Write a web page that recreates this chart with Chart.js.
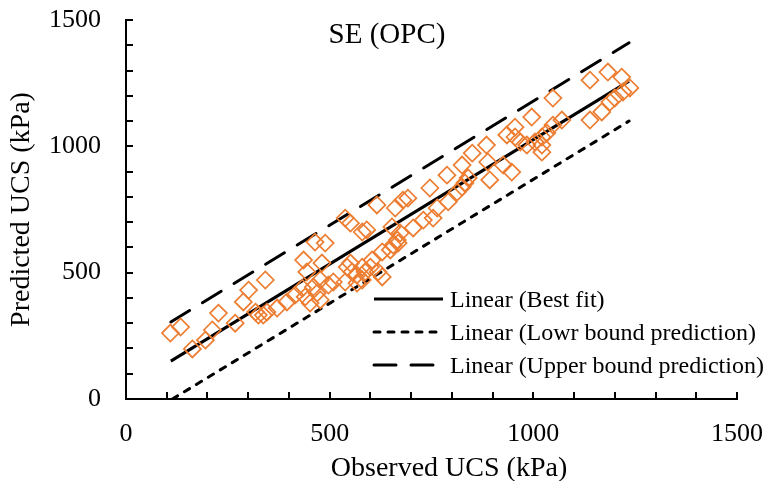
<!DOCTYPE html>
<html>
<head>
<meta charset="utf-8">
<script src="https://cdn.jsdelivr.net/npm/chart.js@4.4.0/dist/chart.umd.min.js"></script>
<style>
  html, body { margin: 0; padding: 0; background: #fff; }
  #wrap { width: 767px; height: 481px; }
</style>
</head>
<body>
<div id="wrap"><canvas id="ucsChart"></canvas></div>
<script>
// measured vs model UCS, kPa
const observed = [109, 134, 163, 195, 212, 227, 268, 288, 301, 318, 325, 337, 342, 346, 371, 395, 415, 433, 436, 440,
  444, 452, 460, 464, 469, 477, 477, 481, 489, 497,
  509, 538, 538, 543, 551, 551, 555, 567, 567, 580, 580, 580, 587, 591, 600, 604, 616, 619, 629, 629,
  649, 653, 656, 661, 666, 668, 673, 680, 692, 705, 730, 746, 754, 764, 788, 791, 813, 825, 825, 832,
  840, 850, 885, 888, 893, 926, 935, 947, 955, 955, 968, 984, 996, 1004, 1021, 1021, 1021, 1033, 1048, 1048,
  1070, 1139, 1139, 1168, 1183, 1188, 1200, 1217, 1220, 1237];
const predicted = [261, 285, 198, 233, 273, 340, 300, 384, 431, 344, 332, 332, 471, 344, 360, 384, 411, 439, 550, 404,
  503, 380, 443, 621, 419, 392, 471, 538, 617, 451,
  463, 716, 463, 522, 696, 538, 503, 491, 459, 522, 471, 661, 503, 669, 522, 550, 768, 503, 483, 582,
  590, 681, 609, 756, 629, 617, 657, 787, 795, 677, 708, 835, 716, 756, 886, 780, 819, 926, 839, 855,
  875, 973, 1005, 938, 867, 926, 1045, 898, 1037, 1076, 1017, 1005, 1116, 1017, 1037, 1005, 977, 1053, 1191, 1084,
  1104, 1262, 1104, 1136, 1294, 1175, 1191, 1274, 1215, 1231];

// trend lines (end points)
const fitX = [110, 1235];
const bestFit = [150, 1258];
const lowerX = [114, 1235];
const lowerBound = [0, 1100];
const upperX = [110, 1235];
const upperBound = [305, 1410];

const tickStep = 100;
const labelStep = 500;

const serif = "'Liberation Serif', 'Times New Roman', serif";

const pts = (xs, ys) => xs.map((x, i) => ({ x, y: ys[i] }));

// small inward tick marks on both axes
const inwardTicks = {
  id: 'inwardTicks',
  afterDatasetsDraw(chart) {
    const { ctx, chartArea: a, scales: { x, y } } = chart;
    ctx.save();
    ctx.strokeStyle = '#000';
    ctx.lineWidth = 2;
    ctx.beginPath();
    x.ticks.forEach(t => {
      const px = Math.round(x.getPixelForValue(t.value));
      ctx.moveTo(px, a.bottom);
      ctx.lineTo(px, a.bottom - 7);
    });
    y.ticks.forEach(t => {
      const py = Math.round(y.getPixelForValue(t.value));
      ctx.moveTo(a.left, py);
      ctx.lineTo(a.left + 7, py);
    });
    ctx.stroke();
    ctx.restore();
  }
};

// panel caption, x title and legend for the three trend lines
const panelText = {
  id: 'panelText',
  afterDraw(chart) {
    const { ctx, chartArea: a } = chart;
    ctx.save();
    ctx.fillStyle = '#000';
    ctx.textAlign = 'center';
    ctx.textBaseline = 'alphabetic';
    ctx.font = `29px ${serif}`;
    ctx.fillText('SE (OPC)', a.left + 261, a.top + 23);

    ctx.font = `28px ${serif}`;
    ctx.fillText('Observed UCS (kPa)', a.left + 323, a.bottom + 77);

    ctx.font = `24px ${serif}`;
    ctx.textAlign = 'left';
    const lines = chart.data.datasets.filter(d => d.showLine);
    lines.forEach((d, i) => {
      const yy = a.bottom - 100 + i * 33;
      ctx.beginPath();
      ctx.strokeStyle = d.borderColor;
      ctx.lineWidth = d.borderWidth;
      ctx.lineCap = d.borderCapStyle || 'butt';
      ctx.setLineDash(d.borderDash || []);
      ctx.moveTo(a.left + 248, yy);
      ctx.lineTo(a.left + 317, yy);
      ctx.stroke();
      ctx.setLineDash([]);
      ctx.fillText(d.label, a.left + 324, yy + 8);
    });
    ctx.restore();
  }
};

new Chart(document.getElementById('ucsChart').getContext('2d'), {
  type: 'scatter',
  data: {
    datasets: [
      {
        label: 'Data',
        data: pts(observed, predicted),
        pointStyle: 'rectRot',
        pointRadius: 8.5,
        pointBorderWidth: 1.7,
        borderColor: '#ED7D31',
        backgroundColor: 'rgba(0,0,0,0)',
        showLine: false
      },
      {
        label: 'Linear (Best fit)',
        data: pts(fitX, bestFit),
        showLine: true,
        borderColor: '#000',
        borderWidth: 3,
        pointRadius: 0
      },
      {
        label: 'Linear (Lowr bound prediction)',
        data: pts(lowerX, lowerBound),
        showLine: true,
        borderColor: '#000',
        borderWidth: 3,
        borderDash: [6, 8],
        borderCapStyle: 'round',
        pointRadius: 0
      },
      {
        label: 'Linear (Upper bound prediction)',
        data: pts(upperX, upperBound),
        showLine: true,
        borderColor: '#000',
        borderWidth: 3,
        borderDash: [22, 15],
        borderCapStyle: 'round',
        pointRadius: 0
      }
    ]
  },
  options: {
    responsive: true,
    maintainAspectRatio: false,
    devicePixelRatio: 1,
    animation: false,
    layout: { padding: 0 },
    plugins: {
      legend: { display: false },
      tooltip: { enabled: false }
    },
    scales: {
      x: {
        type: 'linear',
        min: 0,
        max: 1500,
        grid: { display: false, drawTicks: false },
        border: { display: true, color: '#000', width: 2 },
        ticks: {
          stepSize: tickStep,
          autoSkip: false,
          maxRotation: 0,
          padding: 20,
          color: '#000',
          font: { family: serif, size: 26 },
          callback: v => (v % labelStep === 0 ? v : '')
        },
        title: { display: false },
        afterFit: s => {
          s.height = 82;
          s.paddingLeft = 0;
          s.paddingRight = 30;
        }
      },
      y: {
        type: 'linear',
        min: 0,
        max: 1500,
        grid: { display: false, drawTicks: false },
        border: { display: true, color: '#000', width: 2 },
        ticks: {
          stepSize: tickStep,
          autoSkip: false,
          padding: 25,
          color: '#000',
          font: { family: serif, size: 26 },
          callback: v => (v % labelStep === 0 ? v : '')
        },
        title: {
          display: true,
          text: 'Predicted UCS (kPa)',
          color: '#000',
          font: { family: serif, size: 28 },
          padding: { top: 5, bottom: 0 }
        },
        afterFit: s => {
          s.width = 126;
          s.paddingTop = 20;
          s.paddingBottom = 0;
        }
      }
    }
  },
  plugins: [inwardTicks, panelText]
});
</script>
</body>
</html>
